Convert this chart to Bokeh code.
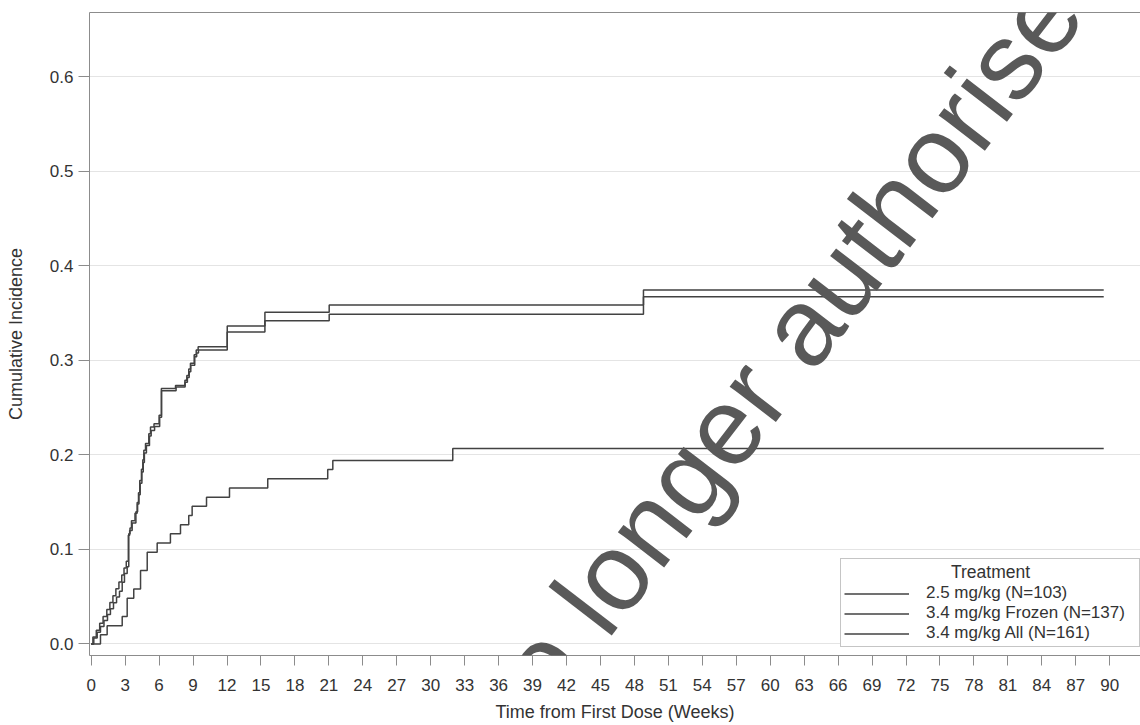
from bokeh.plotting import figure
from bokeh.models import Range1d, FixedTicker, Legend, LegendItem, Label, PrintfTickFormatter, LinearAxis
from bokeh.embed import file_html
from bokeh.resources import INLINE

# ---- data ----
weeks_25 = [0, 0.82, 1.41, 2.74, 3.18, 3.76, 4.36, 4.95, 5.83, 7.0, 7.89, 8.62, 8.92,
            10.19, 12.22, 15.6, 20.9, 21.35, 31.95, 89.47]
cif_25 = [0, 0.0097, 0.0194, 0.0291, 0.0485, 0.0583, 0.0777, 0.0971, 0.1068, 0.1165,
          0.1262, 0.1359, 0.1456, 0.1553, 0.165, 0.1748, 0.1845, 0.1942, 0.2068, 0.2068]

weeks_frozen = [0, 0.23, 0.53, 0.82, 1.13, 1.44, 1.70, 1.97, 2.24, 2.50, 2.74, 2.94, 3.18,
                3.32, 3.43, 3.56, 3.87, 4.06, 4.18, 4.29, 4.44, 4.56, 4.65, 4.80, 5.09,
                5.24, 5.55, 6.00, 6.20, 7.45, 8.28, 8.45, 8.62, 8.77, 9.10, 9.28, 9.45,
                12.02, 15.35, 21.03, 48.8, 89.47]
cif_frozen = [0, 0.0062, 0.0124, 0.0186, 0.0248, 0.0311, 0.0373, 0.0435, 0.0497, 0.0559,
              0.0652, 0.0745, 0.0816, 0.1165, 0.1227, 0.1305, 0.1383, 0.1497, 0.1600,
              0.1730, 0.1850, 0.1950, 0.2050, 0.2120, 0.2225, 0.2296, 0.2330, 0.2420,
              0.2703, 0.2736, 0.2790, 0.2840, 0.2910, 0.2970, 0.3060, 0.3110, 0.3146,
              0.3365, 0.3510, 0.3587, 0.3746, 0.3746]

weeks_all = [0, 0.15, 0.45, 0.75, 1.05, 1.38, 1.65, 1.92, 2.18, 2.45, 2.70, 2.90, 3.10,
             3.28, 3.40, 3.62, 3.95, 4.10, 4.22, 4.33, 4.48, 4.60, 4.70, 4.88, 5.15,
             5.30, 5.60, 6.05, 6.22, 7.50, 8.30, 8.50, 8.66, 8.80, 9.15, 9.32, 9.48,
             12.02, 15.35, 21.03, 48.8, 89.47]
cif_all = [0, 0.0073, 0.0146, 0.0219, 0.0292, 0.0365, 0.0438, 0.0511, 0.0584, 0.0657,
           0.0730, 0.0803, 0.0876, 0.1150, 0.1200, 0.1280, 0.1400, 0.1480, 0.1580,
           0.1700, 0.1820, 0.1920, 0.2020, 0.2100, 0.2200, 0.2260, 0.2300, 0.2400,
           0.2680, 0.2720, 0.2770, 0.2820, 0.2880, 0.2950, 0.3040, 0.3080, 0.3110,
           0.3300, 0.3420, 0.3490, 0.3675, 0.3675]

series_labels = ["2.5 mg/kg (N=103)", "3.4 mg/kg Frozen (N=137)", "3.4 mg/kg All (N=161)"]
x_ticks = list(range(0, 91, 3))
y_ticks = [0.0, 0.1, 0.2, 0.3, 0.4, 0.5, 0.6]
x_title = "Time from First Dose (Weeks)"
y_title = "Cumulative Incidence"
legend_title = "Treatment"
watermark = "no longer authorised"

FONT = "Liberation Sans"
TXT = "#333333"
GREY = "#8c8c8c"
LINE = "#424242"

p = figure(frame_width=1051, frame_height=643, output_backend="svg", toolbar_location=None,
           x_range=Range1d(-0.15, 92.72), y_range=Range1d(-0.0122, 0.6682),
           min_border_left=89, min_border_right=0, min_border_top=12, min_border_bottom=70,
           background_fill_color="white", border_fill_color="white")

xax = p.below[0]
yax = p.left[0]

p.outline_line_color = None
p.xgrid.visible = False
p.ygrid.grid_line_color = "#e4e4e4"
p.ygrid.grid_line_width = 1

xax.ticker = FixedTicker(ticks=x_ticks)
yax.ticker = FixedTicker(ticks=y_ticks)
yax.formatter = PrintfTickFormatter(format="%.1f")
p.ygrid.ticker = FixedTicker(ticks=y_ticks)

for ax in (xax, yax):
    ax.axis_line_color = GREY
    ax.major_tick_line_color = GREY
    ax.minor_tick_line_color = None
    ax.major_tick_in = 0
    ax.major_label_text_font = FONT
    ax.major_label_text_font_size = "17px"
    ax.major_label_text_color = TXT
    ax.axis_label_text_font = FONT
    ax.axis_label_text_font_size = "18px"
    ax.axis_label_text_font_style = "normal"
    ax.axis_label_text_color = TXT

xax.major_tick_out = 10
xax.major_label_standoff = 13
xax.axis_label = x_title
xax.axis_label_standoff = 8
yax.major_tick_out = 11
yax.major_label_standoff = 5
yax.axis_label = y_title
yax.axis_label_standoff = 21

# top frame line only (no ticks, no labels)
top = LinearAxis(ticker=FixedTicker(ticks=[]), axis_line_color=GREY,
                 major_tick_line_color=None, minor_tick_line_color=None,
                 major_label_text_font_size="0px", major_tick_out=0, major_tick_in=0,
                 major_label_standoff=0, axis_label=None)
p.add_layout(top, "above")

r1 = p.step(weeks_25, cif_25, mode="after", line_color=LINE, line_width=1.5)
r2 = p.step(weeks_frozen, cif_frozen, mode="after", line_color=LINE, line_width=1.5)
r3 = p.step(weeks_all, cif_all, mode="after", line_color=LINE, line_width=1.5)

legend = Legend(items=[LegendItem(label=series_labels[0], renderers=[r1]),
                       LegendItem(label=series_labels[1], renderers=[r2]),
                       LegendItem(label=series_labels[2], renderers=[r3])],
                location=(751, 8))
# centre the legend title inside the box with non-breaking spaces
legend.title = "\u00a0" * 22 + legend_title
legend.title_text_font = FONT
legend.title_text_font_size = "17.5px"
legend.title_text_font_style = "normal"
legend.title_text_color = TXT
legend.title_standoff = 0
legend.padding = 3
legend.spacing = -1
legend.margin = 0
legend.glyph_width = 65
legend.glyph_height = 19
legend.label_height = 19
legend.label_width = 210
legend.label_standoff = 17
legend.label_text_font = FONT
legend.label_text_font_size = "17px"
legend.label_text_color = TXT
legend.border_line_color = GREY
legend.background_fill_color = "white"
legend.background_fill_alpha = 1
p.add_layout(legend)

p.add_layout(Label(x=483, y=738.5, x_units="canvas", y_units="canvas", text=watermark,
                   angle=0.915, text_align="left", text_baseline="middle", text_font=FONT,
                   text_font_size="110px", text_color="#595959", level="overlay"))

open("out.html", "w").write(file_html(p, INLINE))
